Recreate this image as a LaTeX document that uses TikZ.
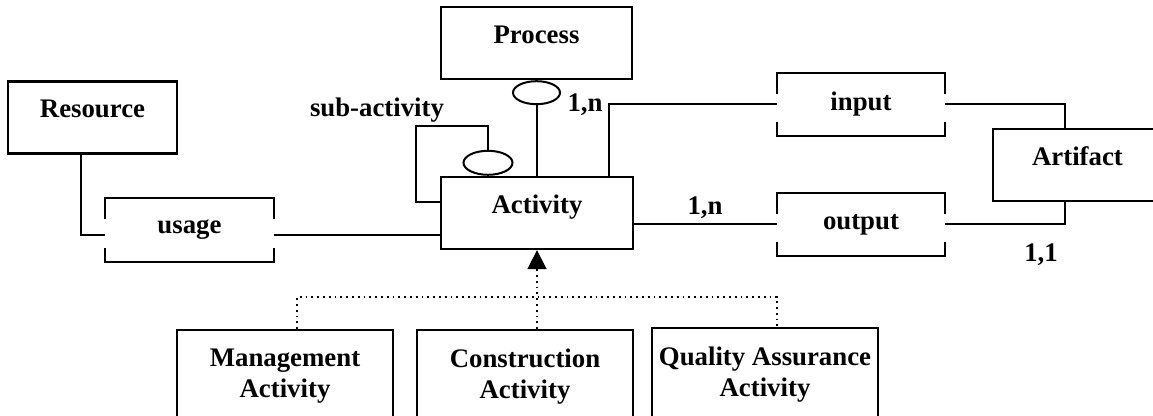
\documentclass[tikz,border=0pt]{standalone}
\usepackage{fontspec}
\setmainfont{Liberation Serif}
\usetikzlibrary{arrows.meta, shapes.geometric}
\tikzset{
  txt/.style = {font=\bfseries\fontsize{13.4}{15.5}\selectfont},
  entity/.style = {txt, draw, line width=1.2pt, minimum height=36pt,
    text depth=8.5pt},
  rel/.style = {txt, minimum width=84pt, minimum height=31.5pt},
  role/.style = {ellipse, draw, line width=1pt, inner sep=0pt,
    minimum width=23.5pt, minimum height=11.5pt},
  kind/.style = {txt, draw, line width=1.2pt, align=center, anchor=north,
    minimum width=108pt, inner ysep=9.5pt},
  conn/.style = {line width=1pt},
  gen/.style = {dotted, line width=0.9pt}
}
\newcommand\relbrackets[1]{%
  \draw[conn] (#1.north west) ++(0,21) -- (#1.north west) -- (#1.north east) -- ++(0,21);
  \draw[conn] (#1.south west) ++(0,-14) -- (#1.south west) -- (#1.south east) -- ++(0,-14);
}

\begin{document}
\begin{tikzpicture}[x=0.5pt, y=-0.5pt]
\useasboundingbox (0,0) rectangle (1153,416);
\clip (0,0) rectangle (1153,416);

\node [entity, minimum width=84.5pt] (resource) at (92.5,117.5) {Resource};
\node [entity, minimum width=95.5pt] (process) at (536.5,43) {Process};
\node [entity, minimum width=96pt] (activity) at (537,213) {Activity};
\node [entity, minimum width=84.5pt] (artifact) at (1077.5,165) {Artifact};

\node [rel, minimum height=32pt] (usage) at (189.5,230) {usage};
\node [rel] (input) at (861,104.5) {input};
\node [rel] (output) at (861,224.5) {output};
\relbrackets{usage}
\relbrackets{input}
\relbrackets{output}

\node [role, anchor=north] (procrole) at (process.south) {};
\node [role, anchor=south, minimum width=24.5pt, minimum height=12pt] (subrole)
  at ([xshift=-24.5pt]activity.north) {};

\node [kind] (mgmt) at (285,329) {Management\\Activity};
\node [kind] (constr) at (525,329) {Construction\\Activity};
\node [kind] (quality) at (765,327) {Quality Assurance\\Activity};

\node [txt] (sublabel) at (377,110) {sub-activity};
\node [txt] (procmult) at (585,105) {1,n};
\node [txt] (outmult) at (705,208) {1,n};
\node [txt] (artmult) at (1041,255) {1,1};

\coordinate (usagel) at ([yshift=-2.5pt]usage.west);
\coordinate (usager) at ([yshift=-2.5pt]usage.east);
\coordinate (loopin) at ([yshift=5.5pt]activity.west);
\coordinate (genbar) at (537,297);

\draw [conn] ([xshift=-5.75pt]resource.south) |- (usagel);
\draw [conn] (usager) -- (usager -| activity.west);
\draw [conn] (procrole.south) -- (procrole.south |- activity.north);
\draw [conn] (subrole.north) -- ++(0,-24) -| ([xshift=-12pt]loopin) -- (loopin);
\draw [conn] ([xshift=36pt]activity.north) |- (input.west);
\draw [conn] (input.east) -| ([xshift=-6.25pt]artifact.north);
\draw [conn] (output.west -| activity.east) -- (output.west);
\draw [conn] (output.east) -| ([xshift=-6.25pt]artifact.south);

\draw [gen] ([xshift=6pt]mgmt.north) |- (genbar) -| ([xshift=6pt]quality.north);
\draw [gen, -{Triangle[length=9.5pt, width=9.5pt]}] ([xshift=6pt]constr.north)
  -- (activity.south);
\end{tikzpicture}
\end{document}
